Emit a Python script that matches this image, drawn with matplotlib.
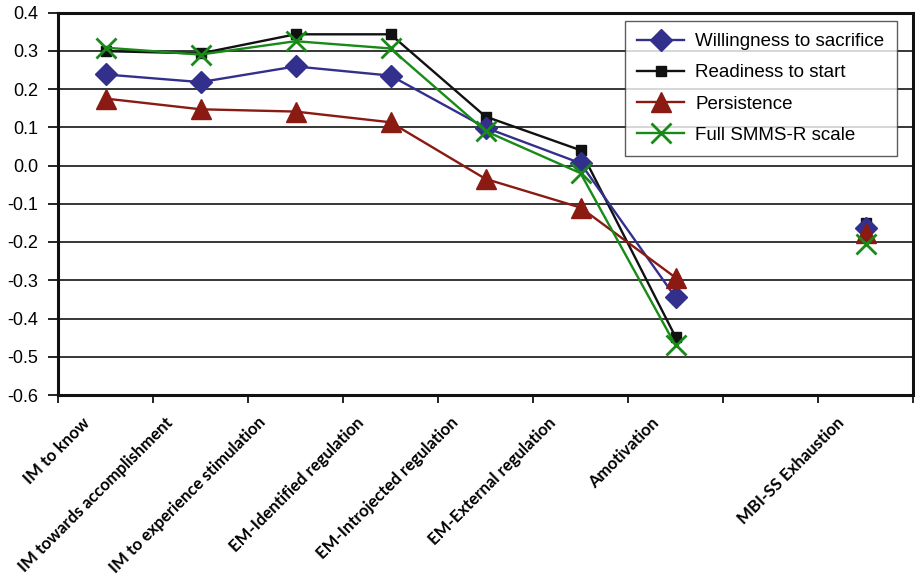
import numpy as np
import matplotlib
matplotlib.use("Agg")
import matplotlib.pyplot as plt
import matplotlib.transforms as mtransforms

categories = ["IM to know", "IM towards accomplishment", "IM to experience stimulation",
              "EM-Identified regulation", "EM-Introjected regulation", "EM-External regulation",
              "Amotivation", "", "MBI-SS Exhaustion"]

willingness = [0.238, 0.218, 0.259, 0.235, 0.099, 0.006, -0.345, np.nan, -0.163]
readiness   = [0.299, 0.293, 0.343, 0.343, 0.128, 0.040, -0.448, np.nan, -0.150]
persistence = [0.175, 0.147, 0.141, 0.113, -0.035, -0.110, -0.293, np.nan, -0.177]
full_scale  = [0.308, 0.290, 0.325, 0.306, 0.090, -0.020, -0.470, np.nan, -0.205]

series_names = ["Willingness to sacrifice", "Readiness to start", "Persistence", "Full SMMS-R scale"]
yticks = [0.4, 0.3, 0.2, 0.1, 0.0, -0.1, -0.2, -0.3, -0.4, -0.5, -0.6]

fig = plt.figure(figsize=(9.15, 5.82), dpi=100)
ax = fig.add_axes([58/915, 1-395/582, (913-58)/915, (395-12.5)/582])

x = np.arange(len(categories))
ax.plot(x, willingness, color="#332F8C", lw=1.7, marker="D", ms=11, label=series_names[0], zorder=4)
ax.plot(x, readiness, color="#111111", lw=1.7, marker="s", ms=7, label=series_names[1], zorder=3)
ax.plot(x, persistence, color="#8A1A12", lw=1.7, marker="^", ms=14, label=series_names[2], zorder=5)
ax.plot(x, full_scale, color="#178A17", lw=1.7, marker="x", ms=15, mew=2, label=series_names[3], zorder=6)

ax.set_xlim(-0.5, len(categories) - 0.5)
ax.set_ylim(-0.6, 0.4)
ax.set_yticks(yticks)
ax.set_yticklabels([f"{v:.1f}" for v in yticks], fontfamily="Liberation Sans", fontsize=13)
ax.yaxis.grid(True, color="black", lw=1.1)
ax.set_axisbelow(True)
ax.tick_params(axis="y", direction="out", length=7, width=1.2, pad=7)

# category ticks at boundaries, labels at centres
ax.set_xticks(np.arange(-0.5, len(categories)), minor=True)
ax.set_xticks(x)
ax.tick_params(axis="x", which="minor", direction="out", length=6, width=1.2)
ax.tick_params(axis="x", which="major", length=0, pad=0)
ax.set_xticklabels(categories, rotation=45, ha="right", va="center",
                   rotation_mode="anchor", fontfamily="Lato", fontweight="bold", fontsize=12.1)
for lab, name in zip(ax.get_xticklabels(), categories):
    dx_px = -11 - 0.75 * len(name)
    offset = mtransforms.ScaledTranslation(dx_px / 100, -0.25, fig.dpi_scale_trans)
    lab.set_transform(lab.get_transform() + offset)

for s in ax.spines.values():
    s.set_linewidth(2.2)
    s.set_color("#111111")

leg = ax.legend(loc="upper right", bbox_to_anchor=(0.981, 0.978), frameon=True, fancybox=False,
                edgecolor="#333333", prop={"family": "Liberation Sans", "size": 13.5},
                handlelength=2.5, handletextpad=0.6, labelspacing=0.75, borderpad=0.65,
                borderaxespad=0)
leg.get_frame().set_linewidth(1.0)

fig.savefig("out.png", dpi=100)
